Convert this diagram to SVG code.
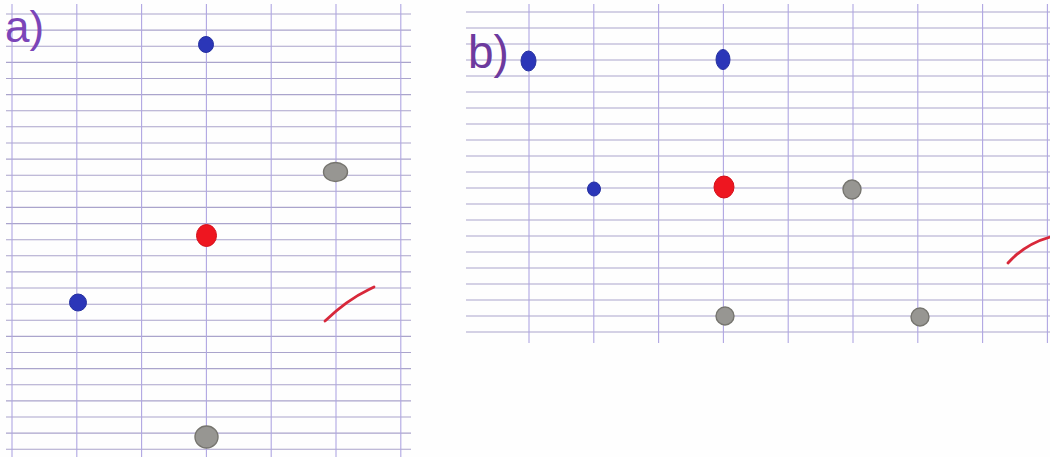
<svg xmlns="http://www.w3.org/2000/svg" width="1050" height="457" viewBox="0 0 1050 457">
<style>
.hl{stroke:#aaa4cc;stroke-width:1.1;fill:none}
.vl{stroke:#b0a6e2;stroke-width:1.1;fill:none}
.blue{fill:#2b36b8;stroke:#2530a0;stroke-width:1}
.red{fill:#ee1620;stroke:#d4101a;stroke-width:1}
.gray{fill:#979692;stroke:#76756f;stroke-width:1.4}
.ink{stroke:#d8283a;stroke-width:2.8;fill:none;stroke-linecap:round}
.lbl{font-family:"Liberation Sans",Arial,sans-serif;fill:#7b45b8}
</style>
<rect width="1050" height="457" fill="#fefefe"/>
<g id="panel-a">
<path class="hl" d="M6,14H411M6,30.1H411M6,46.2H411M6,62.4H411M6,78.5H411M6,94.6H411M6,110.7H411M6,126.8H411M6,143H411M6,159.1H411M6,175.2H411M6,191.3H411M6,207.4H411M6,223.6H411M6,239.7H411M6,255.8H411M6,271.9H411M6,288H411M6,304.2H411M6,320.3H411M6,336.4H411M6,352.5H411M6,368.6H411M6,384.8H411M6,400.9H411M6,417H411M6,433.1H411M6,449.2H411"/>
<path class="vl" d="M12,4V457M76.8,4V457M141.6,4V457M206.4,4V457M271.2,4V457M336,4V457M400.8,4V457"/>
<text class="lbl" x="5" y="42" font-size="44">a)</text>
<g id="a-blue-top"><ellipse class="blue" cx="206" cy="44.5" rx="7.5" ry="8"/></g>
<g id="a-gray-right"><ellipse class="gray" cx="335.5" cy="172" rx="12" ry="9.5"/></g>
<g id="a-red"><ellipse class="red" cx="206.5" cy="235.5" rx="10" ry="11"/></g>
<g id="a-blue-left"><ellipse class="blue" cx="78" cy="302.5" rx="8.5" ry="8.5"/></g>
<g id="a-gray-bottom"><ellipse class="gray" cx="206.5" cy="437" rx="11.5" ry="11"/></g>
<g id="a-stroke"><path class="ink" d="M325,321 Q347,300 368,290 L374,287"/></g>
</g>
<g id="panel-b">
<path class="hl" d="M466,12H1050M466,28H1050M466,44H1050M466,60H1050M466,76H1050M466,92H1050M466,108H1050M466,124H1050M466,140H1050M466,156H1050M466,172H1050M466,188H1050M466,204H1050M466,220H1050M466,236H1050M466,252H1050M466,268H1050M466,284H1050M466,300H1050M466,316H1050M466,332H1050"/>
<path class="vl" d="M529,4V343M593.8,4V343M658.6,4V343M723.4,4V343M788.2,4V343M853,4V343M917.8,4V343M982.6,4V343M1047.4,4V343"/>
<text class="lbl" x="468" y="68" font-size="46" style="fill:#6d3a9e">b)</text>
<g id="b-blue-1"><ellipse class="blue" cx="528.5" cy="61" rx="7.5" ry="10"/></g>
<g id="b-blue-2"><ellipse class="blue" cx="723" cy="59.5" rx="7" ry="10"/></g>
<g id="b-blue-3"><ellipse class="blue" cx="594" cy="189" rx="6.5" ry="7"/></g>
<g id="b-red"><ellipse class="red" cx="724" cy="187" rx="10" ry="11"/></g>
<g id="b-gray-1"><ellipse class="gray" cx="852" cy="189.5" rx="9" ry="9.5"/></g>
<g id="b-gray-2"><ellipse class="gray" cx="725" cy="316" rx="9" ry="9"/></g>
<g id="b-gray-3"><ellipse class="gray" cx="920" cy="317" rx="9" ry="9"/></g>
<g id="b-stroke"><path class="ink" d="M1008,263 Q1025,244 1050,237"/></g>
</g>
</svg>
